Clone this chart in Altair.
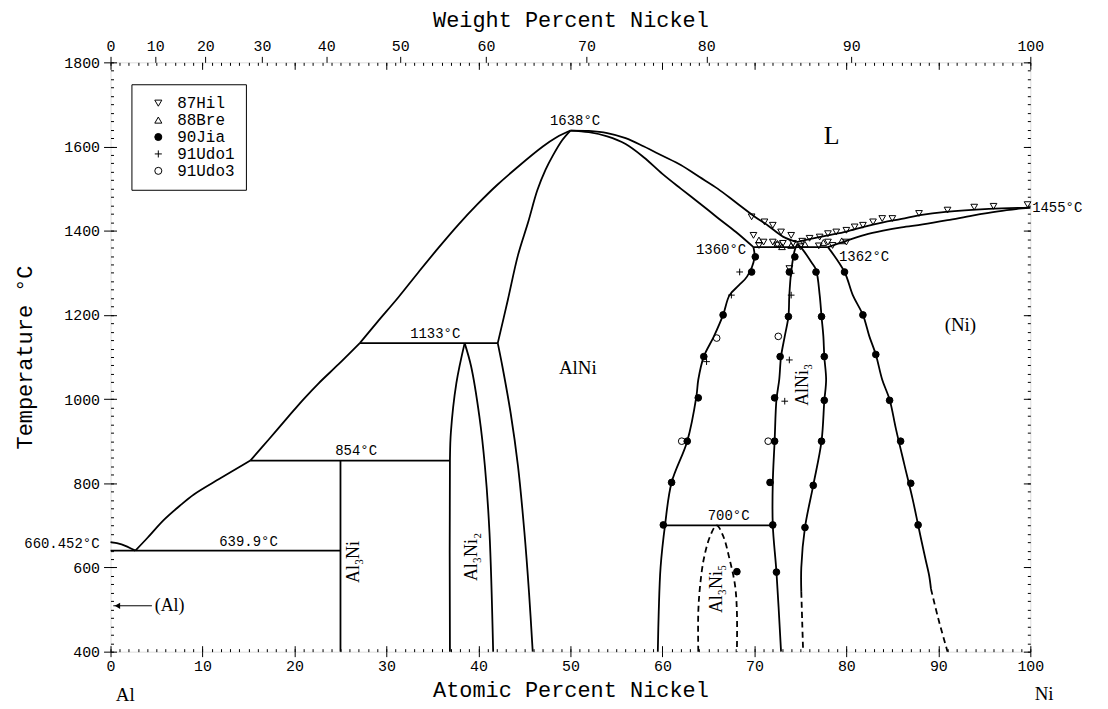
import altair as alt
import pandas as pd

MONO = "Liberation Mono"
SERIF = "Liberation Serif"

# ---------------- phase boundary curves (atomic % Ni, temperature °C) -------------
liq_al0 = [(0, 660.452), (1.2, 655), (2.7, 640)]
liq_1 = [(2.7, 640), (4.0, 670), (5.8, 713), (7.5, 746), (9.1, 774), (11.8, 810), (13.5, 832), (15.2, 854)]
liq_2 = [(15.2, 854), (17.2, 904), (19.4, 960), (21.0, 1000), (22.6, 1037), (24.8, 1083), (27.1, 1133)]
liq_3 = [(27.1, 1133), (29.0, 1183), (31.3, 1242), (33.5, 1302), (35.6, 1358), (37.8, 1414), (39.9, 1463),
         (42.0, 1508), (44.3, 1552), (47.0, 1600), (48.5, 1622), (50.0, 1638)]
alni_left_up = [(42.1, 1133), (43.2, 1236), (44.3, 1342), (45.4, 1420), (46.4, 1496), (47.3, 1545),
                (48.1, 1579), (49.1, 1615), (50.0, 1638)]
alni_left_low = [(42.1, 1133), (42.6, 1078), (43.5, 967), (44.3, 841), (45.0, 683), (45.5, 540), (45.9, 400)]
al3ni2_left = [(38.5, 1133), (37.6, 1038), (37.0, 920), (36.9, 854), (36.9, 400)]
al3ni2_right = [(38.5, 1133), (39.2, 1078), (40.1, 959), (40.7, 841), (41.2, 683), (41.6, 400)]
al3ni_line = [(25, 854), (25, 400)]
iso_639 = [(0, 639.9), (25, 639.9)]
iso_854 = [(15.2, 854), (36.9, 854)]
iso_1133 = [(27.1, 1133), (42.1, 1133)]
alni_sol_r = [(50, 1638), (52, 1634), (54, 1624), (56, 1606), (58, 1574), (60, 1535), (62, 1500), (64, 1466),
              (66, 1431), (68, 1397), (69.9, 1361)]
alni_liq_r = [(50, 1638), (52, 1637), (54, 1632), (56, 1620), (58, 1600), (60, 1578), (62, 1556), (64, 1528),
              (66, 1500), (68, 1467), (70, 1434), (71.5, 1412), (73.1, 1386), (74.6, 1373)]
ni_liq = [(74.6, 1373), (76, 1380), (78, 1389), (80, 1398), (82, 1410), (84, 1420), (86, 1428), (88, 1437),
          (90.8, 1445), (95.5, 1452), (100, 1455)]
ni_sol = [(78, 1361), (80, 1376), (82, 1390), (84, 1400), (86, 1408), (88.3, 1415), (91, 1425), (93.7, 1436),
          (96.5, 1446), (99.1, 1453), (100, 1455)]
iso_1360 = [(69.9, 1361), (78.0, 1361)]
iso_700 = [(60.2, 700), (72.0, 700)]
alni_right = [(69.9, 1361), (70.0, 1335), (69.2, 1291), (68.3, 1270), (67.3, 1247), (66.6, 1200), (65.6, 1149),
              (64.5, 1101), (63.9, 1046), (63.7, 1007), (62.7, 900), (61.0, 802), (60.3, 703), (59.8, 600),
              (59.6, 494), (59.5, 400)]
alni3_left = [(74.7, 1369), (74.4, 1355), (74.0, 1302), (73.8, 1247), (73.7, 1196), (73.3, 1149), (72.9, 1101),
              (72.7, 1046), (72.4, 999), (72.2, 900), (72.0, 802), (72.0, 701), (72.4, 589), (72.9, 400)]
alni3_right = [(74.7, 1369), (75.3, 1354), (76.2, 1325), (76.7, 1307), (77.1, 1247), (77.3, 1196), (77.5, 1149),
               (77.6, 1101), (77.8, 1046), (77.6, 995), (77.3, 900), (76.4, 795), (75.5, 695), (75.1, 600),
               (75.1, 542)]
ni_solvus = [(78.0, 1361), (79.8, 1302), (80.7, 1247), (81.8, 1200), (82.5, 1149), (83.2, 1106), (83.9, 1046),
             (84.7, 999), (85.4, 928), (86.3, 845), (87.2, 763), (87.8, 701), (88.2, 660), (88.6, 620),
             (89.0, 581), (89.2, 549)]
# dashed (uncertain) boundaries
al3ni5_dome = [(63.9, 400), (63.9, 494), (64.1, 557), (64.5, 620), (65.2, 675), (65.9, 700), (66.6, 675),
               (67.3, 620), (67.9, 557), (68.1, 494), (68.1, 400)]
alni3_right_dash = [(75.1, 542), (75.2, 470), (75.3, 400)]
ni_solvus_dash = [(89.2, 549), (90.0, 478), (91.0, 400)]

SOLID = {
    "liq_al0": liq_al0, "liq_1": liq_1, "liq_2": liq_2, "liq_3": liq_3,
    "alni_left_up": alni_left_up, "alni_left_low": alni_left_low,
    "al3ni2_left": al3ni2_left, "al3ni2_right": al3ni2_right, "al3ni": al3ni_line,
    "iso_639": iso_639, "iso_854": iso_854, "iso_1133": iso_1133,
    "alni_sol_r": alni_sol_r, "alni_liq_r": alni_liq_r, "ni_liq": ni_liq, "ni_sol": ni_sol,
    "iso_1360": iso_1360, "iso_700": iso_700, "alni_right": alni_right,
    "alni3_left": alni3_left, "alni3_right": alni3_right, "ni_solvus": ni_solvus,
}
DASHED = {"al3ni5": al3ni5_dome, "alni3_r_d": alni3_right_dash, "ni_solvus_d": ni_solvus_dash}

# ---------------- experimental points ----------------
hil87 = [(69.7, 1433), (71.1, 1421), (72.0, 1413), (72.9, 1397), (74.0, 1389), (69.9, 1389), (71.0, 1373),
         (72.0, 1373), (73.1, 1370), (74.2, 1370), (75.2, 1375), (76.0, 1382), (77.1, 1385), (78.0, 1393),
         (78.9, 1397), (80.0, 1401), (80.9, 1409), (81.8, 1413), (82.9, 1421), (83.9, 1429), (85.0, 1429),
         (87.9, 1441), (91.0, 1449), (93.9, 1456), (96.0, 1458), (99.7, 1462), (78.0, 1373), (80.0, 1373),
         (70.5, 1365), (72.5, 1366), (75.0, 1362), (77.0, 1364), (78.5, 1365), (73.8, 1310)]
bre88 = [(70.5, 1378), (72.5, 1370), (74.0, 1365), (75.5, 1368), (77.5, 1372), (79.5, 1376), (73.0, 1362)]
jia90 = [(70.1, 1338), (69.7, 1302), (66.6, 1200), (64.5, 1101), (74.4, 1338), (73.8, 1302), (73.7, 1196),
         (72.8, 1101), (76.7, 1302), (77.3, 1196), (77.6, 1101), (79.8, 1302), (81.8, 1200), (83.2, 1106),
         (63.9, 1003), (62.7, 900), (61.0, 802), (60.1, 701), (72.2, 1003), (72.2, 900), (71.7, 802),
         (72.0, 701), (72.4, 589), (68.1, 590), (77.6, 997), (77.3, 900), (76.4, 795), (75.5, 695),
         (84.7, 997), (85.9, 900), (87.0, 800), (87.8, 701)]
udo1_91 = [(68.4, 1302), (67.5, 1247), (64.8, 1089), (74.0, 1299), (74.0, 1247), (73.8, 1093), (73.3, 995)]
udo3_91 = [(65.9, 1145), (72.6, 1149), (62.1, 900), (71.5, 900)]

SOURCES = ["87Hil", "88Bre", "90Jia", "91Udo1", "91Udo3"]
POINTS = [hil87, bre88, jia90, udo1_91, udo3_91]

# ---------------- axes ----------------
AT_TICKS = list(range(0, 101, 10))
AT_MINOR = list(range(0, 101, 1))
T_TICKS = list(range(400, 1801, 200))
T_MINOR = list(range(400, 1801, 20))
WT_TICKS = list(range(0, 101, 10))
M_NI, M_AL = 58.69, 26.98
WT_AS_AT = [(w / M_NI) / (w / M_NI + (100 - w) / M_AL) * 100 for w in WT_TICKS]

# ---------------- annotations ----------------
center_labels = pd.DataFrame({"x": [50.5, 35.3, 26.7, 15.0, 67.2], "T": [1660, 1155, 876, 660, 722],
                              "t": ["1638°C", "1133°C", "854°C", "639.9°C", "700°C"]})
right_labels = pd.DataFrame({"x": [69.1, -1.2], "T": [1354, 656], "t": ["1360°C", "660.452°C"]})
left_labels = pd.DataFrame({"x": [79.2, 100.2], "T": [1337, 1455], "t": ["1362°C", "1455°C"]})
phase_labels = pd.DataFrame({"x": [92.4, 50.8, 1.6, 101.5], "T": [1177, 1074, 298, 300],
                             "t": ["(Ni)", "AlNi", "Al", "Ni"]})
big_label = pd.DataFrame({"x": [78.4], "T": [1626], "t": ["L"]})
al_label = pd.DataFrame({"x": [4.8], "T": [509], "t": ["(Al)"]})
rot_labels = pd.DataFrame({"x": [26.5, 39.3, 65.9, 75.3], "T": [613, 625, 549, 1034],
                           "t": ["Al₃Ni", "Al₃Ni₂", "Al₃Ni₅", "AlNi₃"]})
arrow_line = pd.DataFrame({"x": [0.3, 4.5], "T": [509, 509], "seg": ["a", "a"], "i": [0, 1]})
arrow_head = pd.DataFrame({"x": [0.75], "T": [509]})

# ---------------- build tables ----------------
def seg_table(segs):
    rows = []
    for name, pts in segs.items():
        for i, (x, t) in enumerate(pts):
            rows.append({"seg": name, "i": i, "x": x, "T": t})
    return pd.DataFrame(rows)

solid_df = seg_table(SOLID)
dash_df = seg_table(DASHED)
pts_df = pd.DataFrame([{"src": s, "x": x, "T": t} for s, pts in zip(SOURCES, POINTS) for (x, t) in pts])
anchor = pd.DataFrame({"x": [50], "T": [1000]})

XS = alt.Scale(domain=[0, 100], nice=False, zero=False)
YS = alt.Scale(domain=[400, 1800], nice=False, zero=False)


def X(axis=None):
    return alt.X("x:Q", scale=XS, axis=axis, title=None)


def Y(axis=None):
    return alt.Y("T:Q", scale=YS, axis=axis, title=None)


def inward(orient, values, size):
    return alt.Axis(orient=orient, values=values, tickSize=size, offset=-size, labels=False,
                    domain=False, grid=False, ticks=True, tickColor="black", tickWidth=1, title=None)


x_main = alt.Axis(orient="bottom", values=AT_TICKS, format="d", tickSize=5, labelPadding=2, labelFont=MONO,
                  labelFontSize=15, labelFlush=False, labelOverlap=False, domain=False, grid=False,
                  tickColor="black", labelColor="black", title="Atomic Percent Nickel", titleFont=MONO,
                  titleFontSize=22, titleFontWeight="normal", titleX=462, titleY=38, titleBaseline="middle",
                  titleAlign="center", titleColor="black")
y_main = alt.Axis(orient="left", values=T_TICKS, format="d", tickSize=7, labelPadding=4, labelFont=MONO,
                  labelFontSize=15, labelFlush=False, labelOverlap=False, domain=False, grid=False,
                  tickColor="black", labelColor="black", title="Temperature °C", titleFont=MONO,
                  titleFontSize=22, titleFontWeight="normal", titleX=-86, titleY=296, titleAngle=270,
                  titleBaseline="middle", titleAlign="center", titleColor="black")
x_top = alt.Axis(orient="top", values=WT_AS_AT, tickSize=6, labelPadding=3, labelFont=MONO,
                 labelFontSize=15, labelFlush=False, labelOverlap=False, domain=False, grid=False,
                 tickColor="black", labelColor="black",
                 labelExpr="format(round(datum.value*58.69/(datum.value*58.69+(100-datum.value)*26.98)*100),'d')",
                 title="Weight Percent Nickel", titleFont=MONO, titleFontSize=22, titleFontWeight="normal",
                 titleX=462, titleY=-43, titleBaseline="middle", titleAlign="center", titleColor="black")

axis_layers = [
    alt.Chart(anchor).mark_point(opacity=0).encode(x=X(inward("bottom", AT_MINOR, 3)), y=Y(inward("left", T_MINOR, 3))),
    alt.Chart(anchor).mark_point(opacity=0).encode(x=X(inward("bottom", AT_TICKS, 6)), y=Y(inward("left", T_TICKS, 6))),
    alt.Chart(anchor).mark_point(opacity=0).encode(x=X(x_top), y=Y(inward("right", T_MINOR, 3))),
    alt.Chart(anchor).mark_point(opacity=0).encode(x=X(inward("top", AT_MINOR, 3)), y=Y(inward("right", T_TICKS, 7))),
    alt.Chart(anchor).mark_point(opacity=0).encode(x=X(inward("top", AT_TICKS, 7)), y=Y(None)),
]

solid = alt.Chart(solid_df).mark_line(color="black", strokeWidth=1.8, interpolate="catmull-rom").encode(
    x=X(x_main), y=Y(y_main), detail="seg:N", order="i:Q")
dashed = alt.Chart(dash_df).mark_line(color="black", strokeWidth=1.8, strokeDash=[6, 4],
                                      interpolate="catmull-rom").encode(
    x=X(), y=Y(), detail="seg:N", order="i:Q")

legend = alt.Legend(title=None, orient="none", legendX=21, legendY=22, strokeColor="black", fillColor="white",
                    padding=11, labelFont=MONO, labelFontSize=16, labelColor="black", symbolSize=50,
                    symbolStrokeWidth=1, symbolStrokeColor="black", rowPadding=1, symbolOffset=8,
                    labelOffset=11, labelLimit=0)
points = alt.Chart(pts_df).mark_point(filled=False, strokeWidth=1, size=45, opacity=1).encode(
    x=X(), y=Y(),
    shape=alt.Shape("src:N", scale=alt.Scale(domain=SOURCES, range=[
        "triangle-down", "triangle-up", "circle", "M-1,0H1M0,-1V1", "circle"]), legend=legend),
    fill=alt.Fill("src:N", scale=alt.Scale(domain=SOURCES, range=[
        "transparent", "transparent", "black", "transparent", "transparent"]), legend=legend),
    stroke=alt.Stroke("src:N", scale=alt.Scale(domain=SOURCES, range=[
        "black", "black", "black", "black", "black"]), legend=legend),
)

def text_layer(df, font, size, align, angle=0):
    kw = dict(font=font, fontSize=size, align=align, baseline="middle", color="black")
    if angle:
        kw["angle"] = angle
    return alt.Chart(df).mark_text(**kw).encode(x=X(), y=Y(), text="t:N")

texts = [
    text_layer(center_labels, MONO, 14, "center"),
    text_layer(right_labels, MONO, 14, "right"),
    text_layer(left_labels, MONO, 14, "left"),
    text_layer(phase_labels, SERIF, 19, "center"),
    text_layer(big_label, SERIF, 26, "center"),
    text_layer(al_label, SERIF, 18, "left"),
    text_layer(rot_labels, SERIF, 18, "center", angle=270),
]

arrow = alt.Chart(arrow_line).mark_line(color="black", strokeWidth=1).encode(x=X(), y=Y(), detail="seg:N", order="i:Q")
head = alt.Chart(arrow_head).mark_point(shape="triangle-left", filled=True, color="black", size=40, opacity=1).encode(
    x=X(), y=Y())

chart = alt.layer(solid, dashed, points, arrow, head, *texts, *axis_layers).resolve_scale(
    x="independent", y="independent", shape="shared", fill="shared", stroke="shared").resolve_axis(
    x="independent", y="independent").properties(
    width=924, height=592,
    padding={"left": 103, "top": 53, "right": 70, "bottom": 55},
    autosize=alt.AutoSizeParams(type="none"),
).configure_view(stroke="black", strokeWidth=1.5).configure(background="white")

chart.save("out.html", embed_options={"renderer": "svg", "actions": False})
